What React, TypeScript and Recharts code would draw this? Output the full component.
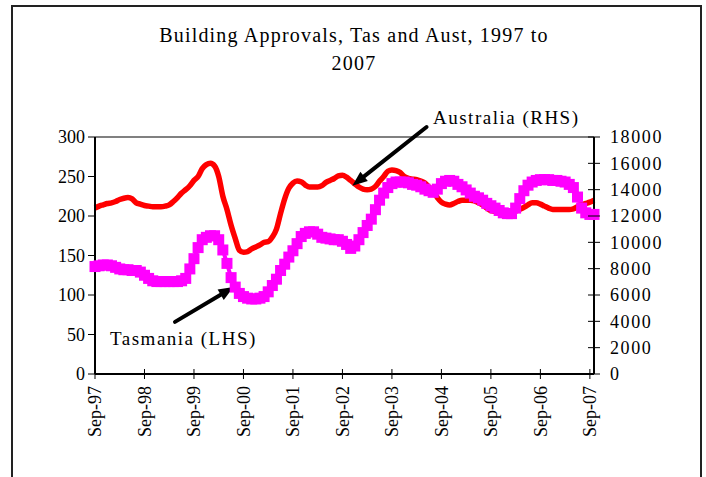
import { Line, LineChart, ReferenceLine, XAxis, YAxis } from "recharts";

// monthly, Sep-97 .. Oct-07
const tickLabels = ["Sep-97", "Sep-98", "Sep-99", "Sep-00", "Sep-01", "Sep-02", "Sep-03", "Sep-04", "Sep-05", "Sep-06", "Sep-07"];
const xTicks = [0, 12, 24, 36, 48, 60, 72, 84, 96, 108, 120];

// Tasmania, LHS
const tasmania = [
  136, 137, 138, 138, 137, 135, 133, 132, 132, 131,
  131, 129, 125, 121, 118, 117, 117, 117, 117, 117,
  117, 118, 121, 133, 146, 160, 170, 173, 175, 175,
  170, 157, 140, 122, 110, 102, 98, 96, 95, 95,
  96, 98, 104, 112, 120, 131, 139, 148, 156, 165,
  174, 178, 180, 180, 177, 173, 172, 171, 170, 170,
  168, 164, 159, 162, 170, 179, 188, 196, 208, 220,
  229, 236, 241, 243, 243, 243, 242, 240, 239, 237,
  234, 232, 230, 234, 241, 244, 245, 244, 240, 237,
  233, 229, 225, 223, 220, 216, 213, 210, 207, 204,
  203, 203, 210, 222, 232, 239, 243, 245, 246, 246,
  246, 245, 245, 244, 243, 240, 236, 224, 210, 204,
  202, 202,
];

// Australia, RHS
const australia = [
  12600, 12750, 12850, 12950, 13000, 13100, 13250, 13350, 13400, 13300,
  13000, 12900, 12800, 12750, 12700, 12700, 12700, 12750, 12850, 13100,
  13400, 13750, 14000, 14300, 14700, 15000, 15600, 15900, 16000, 15800,
  15000, 13500, 12500, 11300, 10300, 9400, 9250, 9300, 9500, 9650,
  9800, 10000, 10050, 10400, 11000, 12200, 13300, 14100, 14500, 14650,
  14600, 14350, 14200, 14200, 14200, 14300, 14550, 14700, 14850, 15050,
  15100, 14950, 14700, 14450, 14200, 14050, 14000, 14050, 14250, 14650,
  15000, 15400, 15500, 15450, 15300, 15000, 14850, 14800, 14750, 14650,
  14500, 14200, 13850, 13400, 13050, 12900, 12830, 12950, 13100, 13200,
  13200, 13200, 13150, 13000, 12850, 12600, 12400, 12350, 12350, 12330,
  12300, 12200, 12350, 12500, 12650, 12850, 13000, 13000, 12900, 12750,
  12600, 12500, 12500, 12500, 12500, 12500, 12550, 12700, 12850, 12950,
  13050, 13200,
];

const leftTicks = [0, 50, 100, 150, 200, 250, 300];
const rightTicks = [0, 2000, 4000, 6000, 8000, 10000, 12000, 14000, 16000, 18000];

const data = tasmania.map((tas, m) => ({ m, tas, aus: australia[m] }));

const FONT = "'Liberation Serif', 'Times New Roman', serif";

const BottomTick = (props: any) => {
  const { x, y, payload } = props;
  const axisY = y - 12;
  return (
    <g>
      <line x1={x} x2={x} y1={axisY - 5} y2={axisY + 5} stroke="#000" strokeWidth={1} />
      <text
        x={x}
        y={y}
        transform={`rotate(-90, ${x}, ${y})`}
        textAnchor="end"
        dy="0.35em"
        fontFamily={FONT}
        fontSize={18}
        fill="#000"
      >
        {tickLabels[payload.value / 12]}
      </text>
    </g>
  );
};

const RightTick = (props: any) => {
  const { x, y, payload } = props;
  const axisX = x - 16;
  return (
    <g>
      <line x1={axisX - 6} x2={axisX + 6} y1={y} y2={y} stroke="#000" strokeWidth={1} />
      <text x={x} y={y} dy="0.35em" textAnchor="start" fontFamily={FONT} fontSize={18} letterSpacing={1.6} fill="#000">
        {payload.value}
      </text>
    </g>
  );
};

const arrow = (props: any) => {
  const { x1, y1, x2, y2 } = props;
  const ang = Math.atan2(y2 - y1, x2 - x1);
  const len = 15;
  const w = 6;
  const bx = x2 - len * Math.cos(ang);
  const by = y2 - len * Math.sin(ang);
  const px = -Math.sin(ang) * w;
  const py = Math.cos(ang) * w;
  return (
    <g>
      <line x1={x1} y1={y1} x2={bx} y2={by} stroke="#000" strokeWidth={4} strokeLinecap="round" />
      <polygon points={`${x2},${y2} ${bx + px},${by + py} ${bx - px},${by - py}`} fill="#000" />
    </g>
  );
};

const squareDot = (props: any) => {
  const { cx, cy, index } = props;
  return <rect key={`sq-${index}`} x={cx - 5.5} y={cy - 5.5} width={11} height={11} fill="#FF00FF" />;
};

export default function App() {
  return (
    <div style={{ position: "absolute", left: 0, top: 0, width: 706, height: 477, overflow: "hidden", background: "#fff" }}>
      <LineChart
        width={706}
        height={477}
        data={data}
        margin={{ top: 137, right: 22, left: 35, bottom: 13 }}
      >
        <XAxis
          dataKey="m"
          type="number"
          domain={[0, 121]}
          ticks={xTicks}
          height={90}
          tickSize={5}
          tickMargin={7}
          tickLine={false}
          axisLine={{ stroke: "#000", strokeWidth: 2 }}
          tick={<BottomTick />}
          interval={0}
        />
        <YAxis
          yAxisId="left"
          domain={[0, 300]}
          ticks={leftTicks}
          width={60}
          tickSize={7}
          tickMargin={3}
          axisLine={{ stroke: "#000", strokeWidth: 2 }}
          tickLine={{ stroke: "#000" }}
          tick={{ fill: "#000", fontSize: 18, fontFamily: FONT }}
          interval={0}
        />
        <YAxis
          yAxisId="right"
          orientation="right"
          domain={[0, 18000]}
          ticks={rightTicks}
          width={90}
          tickSize={6}
          tickMargin={10}
          tickLine={false}
          axisLine={{ stroke: "#000", strokeWidth: 2 }}
          tick={<RightTick />}
          interval={0}
        />
        <ReferenceLine yAxisId="left" y={300} stroke="#808080" strokeWidth={2} />
        <Line
          yAxisId="left"
          dataKey="tas"
          type="linear"
          stroke="#FF00FF"
          strokeWidth={4}
          dot={squareDot}
          activeDot={false}
          isAnimationActive={false}
        />
        <Line
          yAxisId="right"
          dataKey="aus"
          type="monotone"
          stroke="#FF0000"
          strokeWidth={5.5}
          dot={false}
          activeDot={false}
          isAnimationActive={false}
        />
        <ReferenceLine
          yAxisId="right"
          ifOverflow="visible"
          segment={[{ x: 80.4, y: 18760 }, { x: 62.4, y: 14300 }]}
          shape={arrow}
        />
        <ReferenceLine
          yAxisId="left"
          ifOverflow="visible"
          segment={[{ x: 19.4, y: 66 }, { x: 33.6, y: 110 }]}
          shape={arrow}
        />
      </LineChart>
      <svg width={706} height={477} style={{ position: "absolute", left: 0, top: 0, pointerEvents: "none" }}>
        <path d="M12 480 L12 6 L701 6 L701 480" fill="none" stroke="#222" strokeWidth={2} />
        <text x={354} y={42} textAnchor="middle" fontFamily={FONT} fontSize={20} letterSpacing={1.2} fill="#000">
          Building Approvals, Tas and Aust, 1997 to
        </text>
        <text x={354} y={70} textAnchor="middle" fontFamily={FONT} fontSize={20} letterSpacing={1.2} fill="#000">
          2007
        </text>
        <text x={433} y={124} fontFamily={FONT} fontSize={19} letterSpacing={1.5} fill="#000">
          Australia (RHS)
        </text>
        <text x={110} y={345} fontFamily={FONT} fontSize={19} letterSpacing={1.5} fill="#000">
          Tasmania (LHS)
        </text>
      </svg>
    </div>
  );
}
